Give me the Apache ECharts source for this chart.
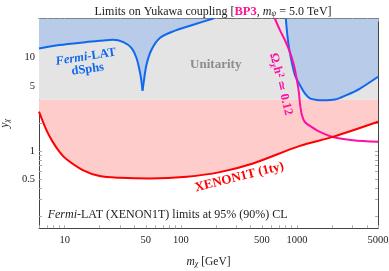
<!DOCTYPE html>
<html><head><meta charset="utf-8">
<script src="https://cdn.jsdelivr.net/npm/echarts@6/dist/echarts.min.js"></script>
<style>html,body{margin:0;padding:0;background:#fff}#c{width:389px;height:271px}</style>
</head><body><div id="c"></div>
<script>
// ---- axis ranges & ticks ----
const xMin = 6, xMax = 5000, yMin = 0.147, yMax = 26.4;
const unitarityY = 3.545;
const xTickLabels = [10, 50, 100, 500, 1000, 5000];
const yTickLabels = [0.5, 1, 5, 10];

// ---- Fermi-LAT dSphs limit (left branch, dip split for a sharp cusp) ----
const fermiLeftMassA = [6, 9, 15, 20, 26, 32, 37.6, 41.5, 44.3, 45.8, 46.8];
const fermiLeftYA    = [12.6, 13.7, 14.7, 15.2, 15.6, 14.7, 12.7, 9.93, 7.14, 5.57, 4.42];
const fermiLeftMassB = [46.8, 48, 50.6, 55.9, 66, 86, 128, 184, 192];
const fermiLeftYB    = [4.42, 5.57, 8.41, 12.2, 16.3, 19.2, 22.6, 26.1, 26.4];
// ---- Fermi-LAT dSphs limit (right branch) ----
const fermiRightMass = [803, 830, 871, 961, 1062, 1172, 1294, 1480, 1687, 2128, 2680, 3500, 5000];
const fermiRightY    = [26.4, 17, 11.2, 6.52, 5.09, 4.14, 3.66, 3.52, 3.49, 3.55, 3.97, 4.67, 6.25];
// ---- XENON1T (1 t y) ----
const xenonMass = [6, 6.95, 7.9, 9.05, 10.3, 14.3, 20, 30, 54, 113, 217, 418, 1060, 2040, 5000];
const xenonY    = [2.63, 1.67, 1.24, 0.97, 0.815, 0.62, 0.535, 0.513, 0.505, 0.527, 0.59, 0.73, 1.13, 1.41, 2.05];
// ---- relic density Omega h^2 = 0.12 ----
const relicMass = [646, 713, 788, 871, 943, 1000, 1040, 1062, 1105, 1172, 1346, 1578, 2043, 3041, 5000];
const relicY    = [26.4, 19.9, 15.5, 11.5, 8.35, 5.76, 4.28, 3.26, 2.42, 2.04, 1.8, 1.6, 1.41, 1.30, 1.25];

const zip = (a, b) => a.map((v, i) => [v, b[i]]);
const serif = '"Liberation Serif","DejaVu Serif",serif';

function logTicks(lo, hi) {
  const out = [];
  for (let e = -2; e <= 4; e++) for (let k = 1; k <= 9; k++) {
    const t = +(k * Math.pow(10, e)).toPrecision(3);
    if (t >= lo * 0.999 && t <= hi * 1.001) out.push(t);
  }
  return out;
}
const xTicks = logTicks(xMin, xMax);
const yTicks = logTicks(yMin, yMax);

const chart = echarts.init(document.getElementById('c'), null, {renderer: 'canvas'});

function axisBase(min, max, ticks, labels, pos, showLabel) {
  return {
    type: 'log', logBase: 10, min, max, position: pos,
    axisLine: {show: true, onZero: false, lineStyle: {color: '#444', width: 1}},
    axisTick: {show: true, inside: true, length: 3, customValues: ticks, lineStyle: {color: '#aaa', width: 1}},
    axisLabel: {show: showLabel, customValues: labels, fontFamily: serif, fontSize: 10.5, color: '#222',
      margin: pos === 'bottom' ? 6 : 4, formatter: v => String(+(+v).toPrecision(3))},
    splitLine: {show: false}, minorTick: {show: false}, minorSplitLine: {show: false}
  };
}

function polySeries(pts, color) {
  return {
    type: 'custom', silent: true, clip: true, data: [[10, 1]],
    renderItem: (params, api) => ({
      type: 'polygon',
      shape: {points: pts.map(p => api.coord(p))},
      style: {fill: color}
    })
  };
}
function lineSeries(pts, color) {
  return {type: 'line', data: pts, showSymbol: false, smooth: 0.3, silent: true, clip: true,
    lineStyle: {color, width: 2}, z: 5};
}

const grayPoly = [[xMin, unitarityY], [xMax, unitarityY], [xMax, yMax], [xMin, yMax]];
const pinkPoly = zip(xenonMass, xenonY).concat([[xMax, unitarityY], [xMin, unitarityY]]);
const blueLeftPoly = zip(fermiLeftMassA, fermiLeftYA).concat(zip(fermiLeftMassB, fermiLeftYB).slice(1)).concat([[xMin, yMax]]);
const blueRightPoly = zip(fermiRightMass, fermiRightY).concat([[xMax, yMax]]);

const blue = '#1068ee', red = '#ff0000', mag = '#ff10a0';

chart.setOption({
  animation: false,
  backgroundColor: '#fff',
  grid: {left: 39, right: 11, top: 18.5, bottom: 42.7, containLabel: false, outerBoundsMode: 'none'},
  title: {
    text: 'Limits on Yukawa coupling [{bp|BP3}, {i|m}{s|ψ} = 5.0 TeV]',
    left: 208, top: 0, textAlign: 'center',
    textStyle: {fontFamily: serif, fontSize: 12, fontWeight: 'normal', color: '#222',
      rich: {bp: {fontFamily: serif, fontSize: 12.5, fontWeight: 'bold', color: '#ff1493'},
             i: {fontFamily: serif, fontSize: 12, fontStyle: 'italic', color: '#222'},
             s: {fontFamily: serif, fontSize: 8, fontStyle: 'italic', color: '#222', padding: [5, 0, 0, 0]}}}
  },
  xAxis: [
    Object.assign(axisBase(xMin, xMax, xTicks, xTickLabels, 'bottom', true), {
      name: '{i|m}{s|χ} [GeV]', nameLocation: 'middle', nameGap: 27,
      nameTextStyle: {fontFamily: serif, fontSize: 11.5, color: '#222',
        rich: {i: {fontFamily: serif, fontSize: 11.5, fontStyle: 'italic', color: '#222'},
               s: {fontFamily: serif, fontSize: 8, fontStyle: 'italic', color: '#222', padding: [5, 0, 0, 0]}}}
    }),
    axisBase(xMin, xMax, xTicks, xTickLabels, 'top', false)
  ],
  yAxis: [
    Object.assign(axisBase(yMin, yMax, yTicks, yTickLabels, 'left', true), {
      name: '{i|y}{s|χ}', nameLocation: 'middle', nameGap: 19, nameRotate: 90,
      nameTextStyle: {fontFamily: serif, fontSize: 12, color: '#222',
        rich: {i: {fontFamily: serif, fontSize: 12, fontStyle: 'italic', color: '#222'},
               s: {fontFamily: serif, fontSize: 8, fontStyle: 'italic', color: '#222', padding: [5, 0, 0, 0]}}}
    }),
    axisBase(yMin, yMax, yTicks, yTickLabels, 'right', false)
  ],
  series: [
    polySeries(grayPoly, '#e4e4e4'),
    polySeries(pinkPoly, '#ffcccc'),
    polySeries(blueLeftPoly, '#b8cbe8'),
    polySeries(blueRightPoly, '#b8cbe8'),
    lineSeries(zip(fermiLeftMassA, fermiLeftYA), blue),
    lineSeries(zip(fermiLeftMassB, fermiLeftYB), blue),
    lineSeries(zip(fermiRightMass, fermiRightY), blue),
    lineSeries(zip(relicMass, relicY), mag),
    lineSeries(zip(xenonMass, xenonY), red)
  ]
});

const px = p => chart.convertToPixel({gridIndex: 0}, p);
function label(pos, text, rot, style) {
  const [x, y] = px(pos);
  return {type: 'text', x, y, rotation: rot * Math.PI / 180, z: 20, silent: true,
    style: Object.assign({text, align: 'center', verticalAlign: 'middle', fontFamily: serif}, style)};
}
const bl = {fontSize: 12.5, fontWeight: 'bold', fill: blue};
chart.setOption({graphic: [
  label([15.2, 10.2], '{i|Fermi}{b|-LAT}', 9, {fontSize: 12.5, fill: blue,
    rich: {i: {fontFamily: serif, fontSize: 12.5, fontStyle: 'italic', fontWeight: 'bold', fill: blue},
           b: {fontFamily: serif, fontSize: 12.5, fontWeight: 'bold', fill: blue}}}),
  label([15.8, 7.5], 'dSphs', 8, bl),
  label([200, 8.5], 'Unitarity', 0, {fontSize: 13, fontWeight: 'bold', fill: '#8c8c8c'}),
  label([728, 5.2], 'Ω{s|χ}h{p|2} ≃ 0.12', -76, {fontSize: 12.5, fontWeight: 'bold', fill: mag,
    rich: {s: {fontFamily: serif, fontSize: 8.5, fontWeight: 'bold', fill: mag, padding: [5, 0, 0, 0]},
           p: {fontFamily: serif, fontSize: 8.5, fontWeight: 'bold', fill: mag, padding: [0, 0, 5, 0]}}}),
  label([320, 0.522], 'XENON1T (1ty)', 14, {fontSize: 13, fontWeight: 'bold', fill: red}),
  (function () { const [x, y] = px([7.13, 0.204]);
    return {type: 'text', x, y, z: 20, silent: true, style: {text: '{i|Fermi}-LAT (XENON1T) limits at 95% (90%) CL',
      align: 'left', verticalAlign: 'middle', fontFamily: serif, fontSize: 12, fill: '#222',
      rich: {i: {fontFamily: serif, fontSize: 12, fontStyle: 'italic', fill: '#222'}}}}; })()
]});
</script></body></html>
